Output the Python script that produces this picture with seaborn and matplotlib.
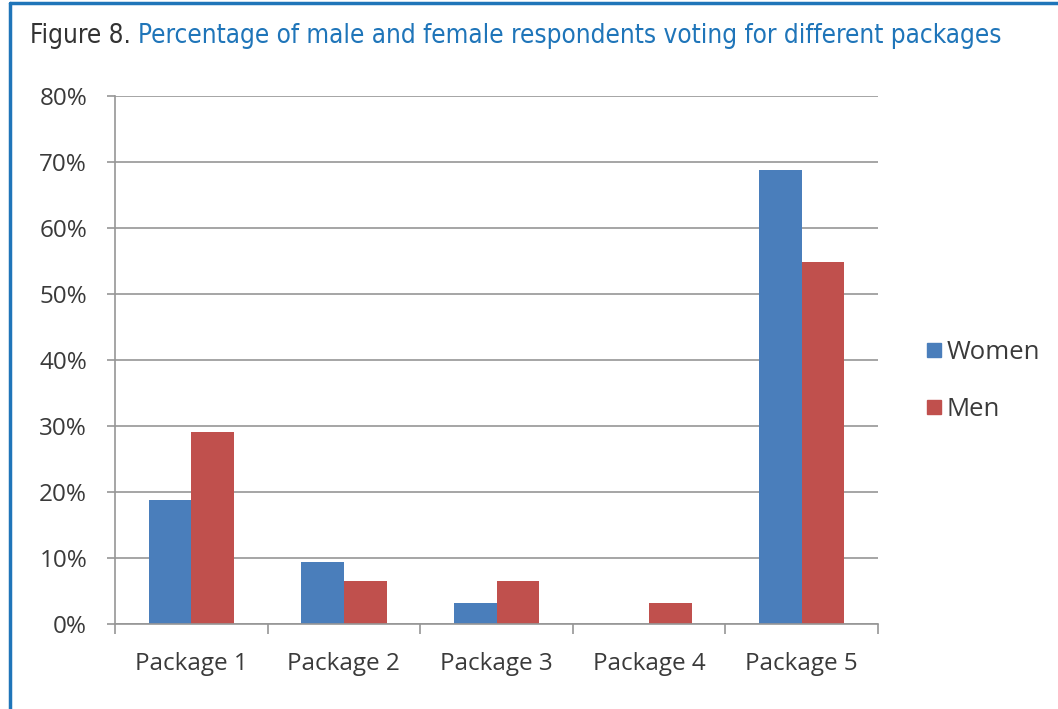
import matplotlib
matplotlib.use("Agg")
import matplotlib.pyplot as plt
from matplotlib.lines import Line2D
from matplotlib.ticker import PercentFormatter, MultipleLocator
import pandas as pd
import seaborn as sns

packages = ["Package 1", "Package 2", "Package 3", "Package 4", "Package 5"]
women = [18.75, 9.375, 3.125, 0.0, 68.75]
men = [29.03, 6.45, 6.45, 3.23, 54.84]
series = ["Women", "Men"]
colors = {"Women": "#4a7ebb", "Men": "#c0504d"}

df = pd.DataFrame({
    "package": packages * 2,
    "group": ["Women"] * len(packages) + ["Men"] * len(packages),
    "value": women + men,
})

sns.set_theme(style="white")
plt.rcParams["font.family"] = ["Open Sans", "DejaVu Sans"]

W, H = 1058, 709
fig = plt.figure(figsize=(W / 100, H / 100), dpi=100)
ax = fig.add_axes([115 / W, 1 - 624 / H, (878 - 115) / W, (624 - 96) / H])

sns.barplot(data=df, x="package", y="value", hue="group", hue_order=series,
            palette=colors, width=0.56, ax=ax, legend=False,
            edgecolor="none", linewidth=0, saturation=1)

ax.set_ylim(0, 80)
ax.set_xlim(-0.5, len(packages) - 0.5)
ax.yaxis.set_major_locator(MultipleLocator(10))
ax.yaxis.set_major_formatter(PercentFormatter(decimals=0))
ax.grid(axis="y", color="#969696", linewidth=1.2)
ax.set_axisbelow(True)
ax.set_xlabel("")
ax.set_ylabel("")
for side in ["top", "right"]:
    ax.spines[side].set_visible(False)
for side in ["left", "bottom"]:
    ax.spines[side].set_color("#969696")
    ax.spines[side].set_linewidth(1.2)

ax.tick_params(axis="y", length=6, width=1.2, color="#969696", direction="out",
               labelsize=17.5, labelcolor="#3a3a3a", pad=14, left=True)
ax.tick_params(axis="x", length=0, labelsize=17.5, labelcolor="#3a3a3a", pad=20)
# category separators on the x axis
ax.set_xticks([i - 0.5 for i in range(len(packages) + 1)], minor=True)
ax.tick_params(axis="x", which="minor", length=7, width=1.2, color="#969696",
               direction="out", bottom=True)

handles = [Line2D([0], [0], marker="s", linestyle="none", markersize=10,
                  markerfacecolor=colors[s], markeredgecolor=colors[s]) for s in series]
fig.legend(handles, series, loc="center left", bbox_to_anchor=(902 / W, 1 - 381 / H),
           frameon=False, fontsize=18.5, labelspacing=1.25, handletextpad=0.15,
           handlelength=0.7, labelcolor="#3a3a3a")

# title line, sized so it spans the width of the header
title_y = 1 - 36 / H
title_family = ["DejaVu Sans"]
size = 20
t1 = fig.text(30 / W, title_y, "Figure 8. ", fontsize=size, color="#333333",
              va="center", ha="left", family=title_family, fontstretch="condensed")
t2 = fig.text(0, title_y,
              "Percentage of male and female respondents voting for different packages",
              fontsize=size, color="#1f75b9", va="center", ha="left",
              family=title_family, fontstretch="condensed")
fig.canvas.draw()
r = fig.canvas.get_renderer()
total = t1.get_window_extent(r).width + t2.get_window_extent(r).width
size = size * (1003 - 30) / total
t1.set_fontsize(size)
t2.set_fontsize(size)
fig.canvas.draw()
t2.set_x(t1.get_window_extent(r).x1 / W)

# frame lines on the left and top
fig.add_artist(Line2D([10 / W, 10 / W], [0, 1 - 3 / H], color="#1f75b9",
                      linewidth=2.5, transform=fig.transFigure))
fig.add_artist(Line2D([10 / W, 1], [1 - 3 / H, 1 - 3 / H], color="#1f75b9",
                      linewidth=2.5, transform=fig.transFigure))

fig.savefig("out.png", dpi=100)
